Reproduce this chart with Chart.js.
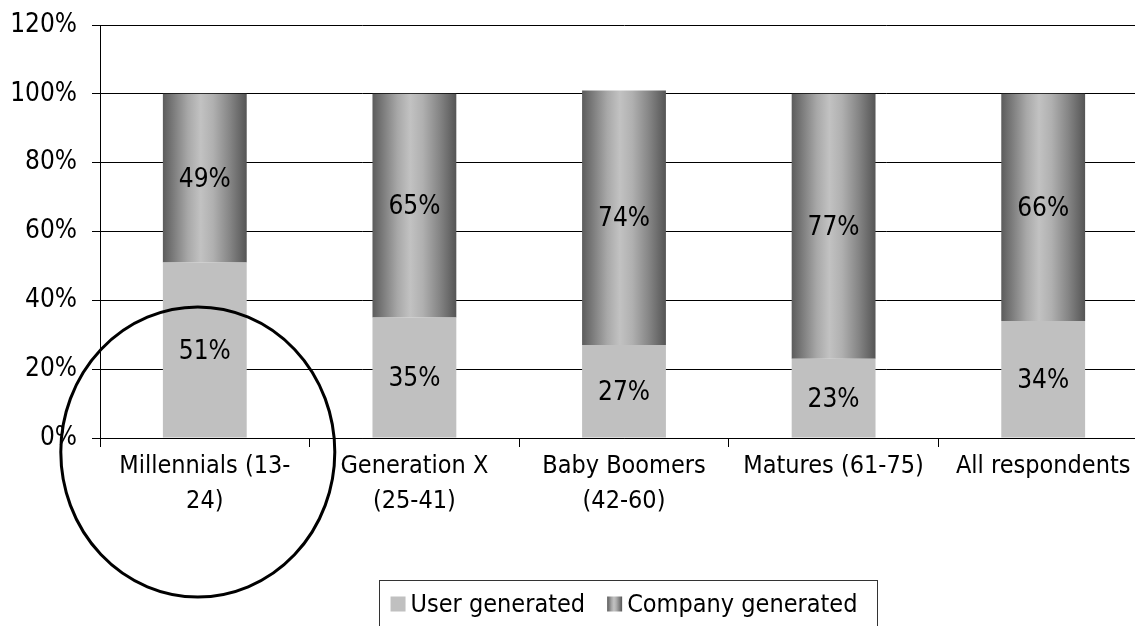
<!DOCTYPE html>
<html><head><meta charset="utf-8">
<script src="https://cdn.jsdelivr.net/npm/chart.js@4.4.0/dist/chart.umd.min.js"></script>
<style>html,body{margin:0;padding:0;background:#fff;overflow:hidden;width:1135px;height:626px}canvas{display:block}</style>
</head><body>
<canvas id="c" width="1148" height="626"></canvas>
<script>
const categories = [["Millennials (13-","24)"],["Generation X","(25-41)"],["Baby Boomers","(42-60)"],"Matures (61-75)","All respondents"];
const userGenerated = [51,35,27,23,34];
const companyGenerated = [49,65,74,77,66];
const seriesNames = ["User generated","Company generated"];
const yMax = 120, yStep = 20;

const FONT = '"Liberation Sans Narrow","Arial Narrow","DejaVu Sans Condensed",sans-serif';
const USER_COLOR = '#c0c0c0';

function addStops(g){
  g.addColorStop(0,'#5c5c5c');
  g.addColorStop(0.12,'#7a7a7a');
  g.addColorStop(0.3,'#a8a8a8');
  g.addColorStop(0.45,'#c2c2c2');
  g.addColorStop(0.6,'#b0b0b0');
  g.addColorStop(0.8,'#858585');
  g.addColorStop(1,'#555555');
  return g;
}
function companyFill(c){
  const chart = c.chart, xs = chart.scales.x;
  if(!xs || xs.width===undefined || c.dataIndex===undefined) return '#999';
  const cx = xs.getPixelForValue(c.dataIndex);
  const w = xs.width/categories.length*0.40;
  return addStops(chart.ctx.createLinearGradient(cx-w/2,0,cx+w/2,0));
}

const labelPlugin = {
  id:'segLabels',
  afterDatasetsDraw(chart){
    const ctx = chart.ctx; ctx.save();
    ctx.font = '26px '+FONT; ctx.fillStyle='#000'; ctx.textAlign='center'; ctx.textBaseline='middle';
    chart.data.datasets.forEach((ds,i)=>{
      chart.getDatasetMeta(i).data.forEach((bar,j)=>{
        const p = bar.getProps(['x','y','base'],true);
        ctx.fillText(ds.data[j]+'%', p.x, (p.y+p.base)/2+2);
      });
    });
    ctx.restore();
  }
};

const decoPlugin = {
  id:'deco',
  afterDraw(chart){
    const ctx = chart.ctx, xs = chart.scales.x, ys = chart.scales.y;
    ctx.save();
    // legend
    ctx.font = '25px '+FONT; ctx.textBaseline='middle'; ctx.textAlign='left';
    const box = 15, gapText = 5, gapItem = 22;
    const widths = seriesNames.map(n=>box+gapText+ctx.measureText(n).width);
    const total = widths.reduce((a,b)=>a+b,0)+gapItem;
    const center = (chart.chartArea.left+chart.chartArea.right)/2;
    let x = center - total/2;
    const ly = 604;
    ctx.strokeStyle='#333'; ctx.lineWidth=1;
    ctx.strokeRect(Math.round(x-12)+0.5, 580.5, Math.round(total+31), 80);
    seriesNames.forEach((n,i)=>{
      if(i===0){ ctx.fillStyle=USER_COLOR; }
      else { ctx.fillStyle = addStops(ctx.createLinearGradient(x,0,x+box,0)); }
      ctx.fillRect(x, ly-box/2, box, box);
      ctx.fillStyle='#000';
      ctx.fillText(n, x+box+gapText, ly+1);
      x += widths[i]+gapItem;
    });
    // highlight ellipse around first category
    const ex = xs.getPixelForValue(0)-7, ey = ys.getPixelForValue(0)+14;
    ctx.beginPath(); ctx.ellipse(ex, ey, 137, 145, 0, 0, Math.PI*2);
    ctx.lineWidth=3; ctx.strokeStyle='#000'; ctx.stroke();
    ctx.restore();
  }
};

new Chart(document.getElementById('c'), {
  type:'bar',
  data:{
    labels:categories,
    datasets:[
      {label:seriesNames[0], data:userGenerated, backgroundColor:USER_COLOR, borderWidth:0},
      {label:seriesNames[1], data:companyGenerated, backgroundColor:companyFill, borderWidth:0}
    ]
  },
  options:{
    responsive:false, animation:false, devicePixelRatio:1,
    layout:{padding:{top:25,left:0,right:0,bottom:0}},
    datasets:{bar:{categoryPercentage:1, barPercentage:0.40}},
    plugins:{legend:{display:false}, tooltip:{enabled:false}},
    scales:{
      x:{
        stacked:true,
        afterFit(s){ s.height = 188; s.paddingLeft = 0; s.paddingRight = 0; },
        grid:{drawOnChartArea:false, drawTicks:true, tickLength:9, color:'#000', offset:true},
        border:{color:'#000', width:1},
        ticks:{color:'#000', font:{family:FONT, size:25, lineHeight:1.4}, padding:2, autoSkip:false, maxRotation:0, minRotation:0}
      },
      y:{
        stacked:true, min:0, max:yMax,
        afterFit(s){ s.width = 100; s.paddingTop = 0; s.paddingBottom = 0; },
        grid:{color:'#000', tickLength:8, drawTicks:true},
        border:{color:'#000', width:1},
        ticks:{stepSize:yStep, color:'#000', font:{family:FONT, size:26}, padding:15, callback:v=>v+'%'}
      }
    }
  },
  plugins:[labelPlugin, decoPlugin]
});
</script>
</body></html>
